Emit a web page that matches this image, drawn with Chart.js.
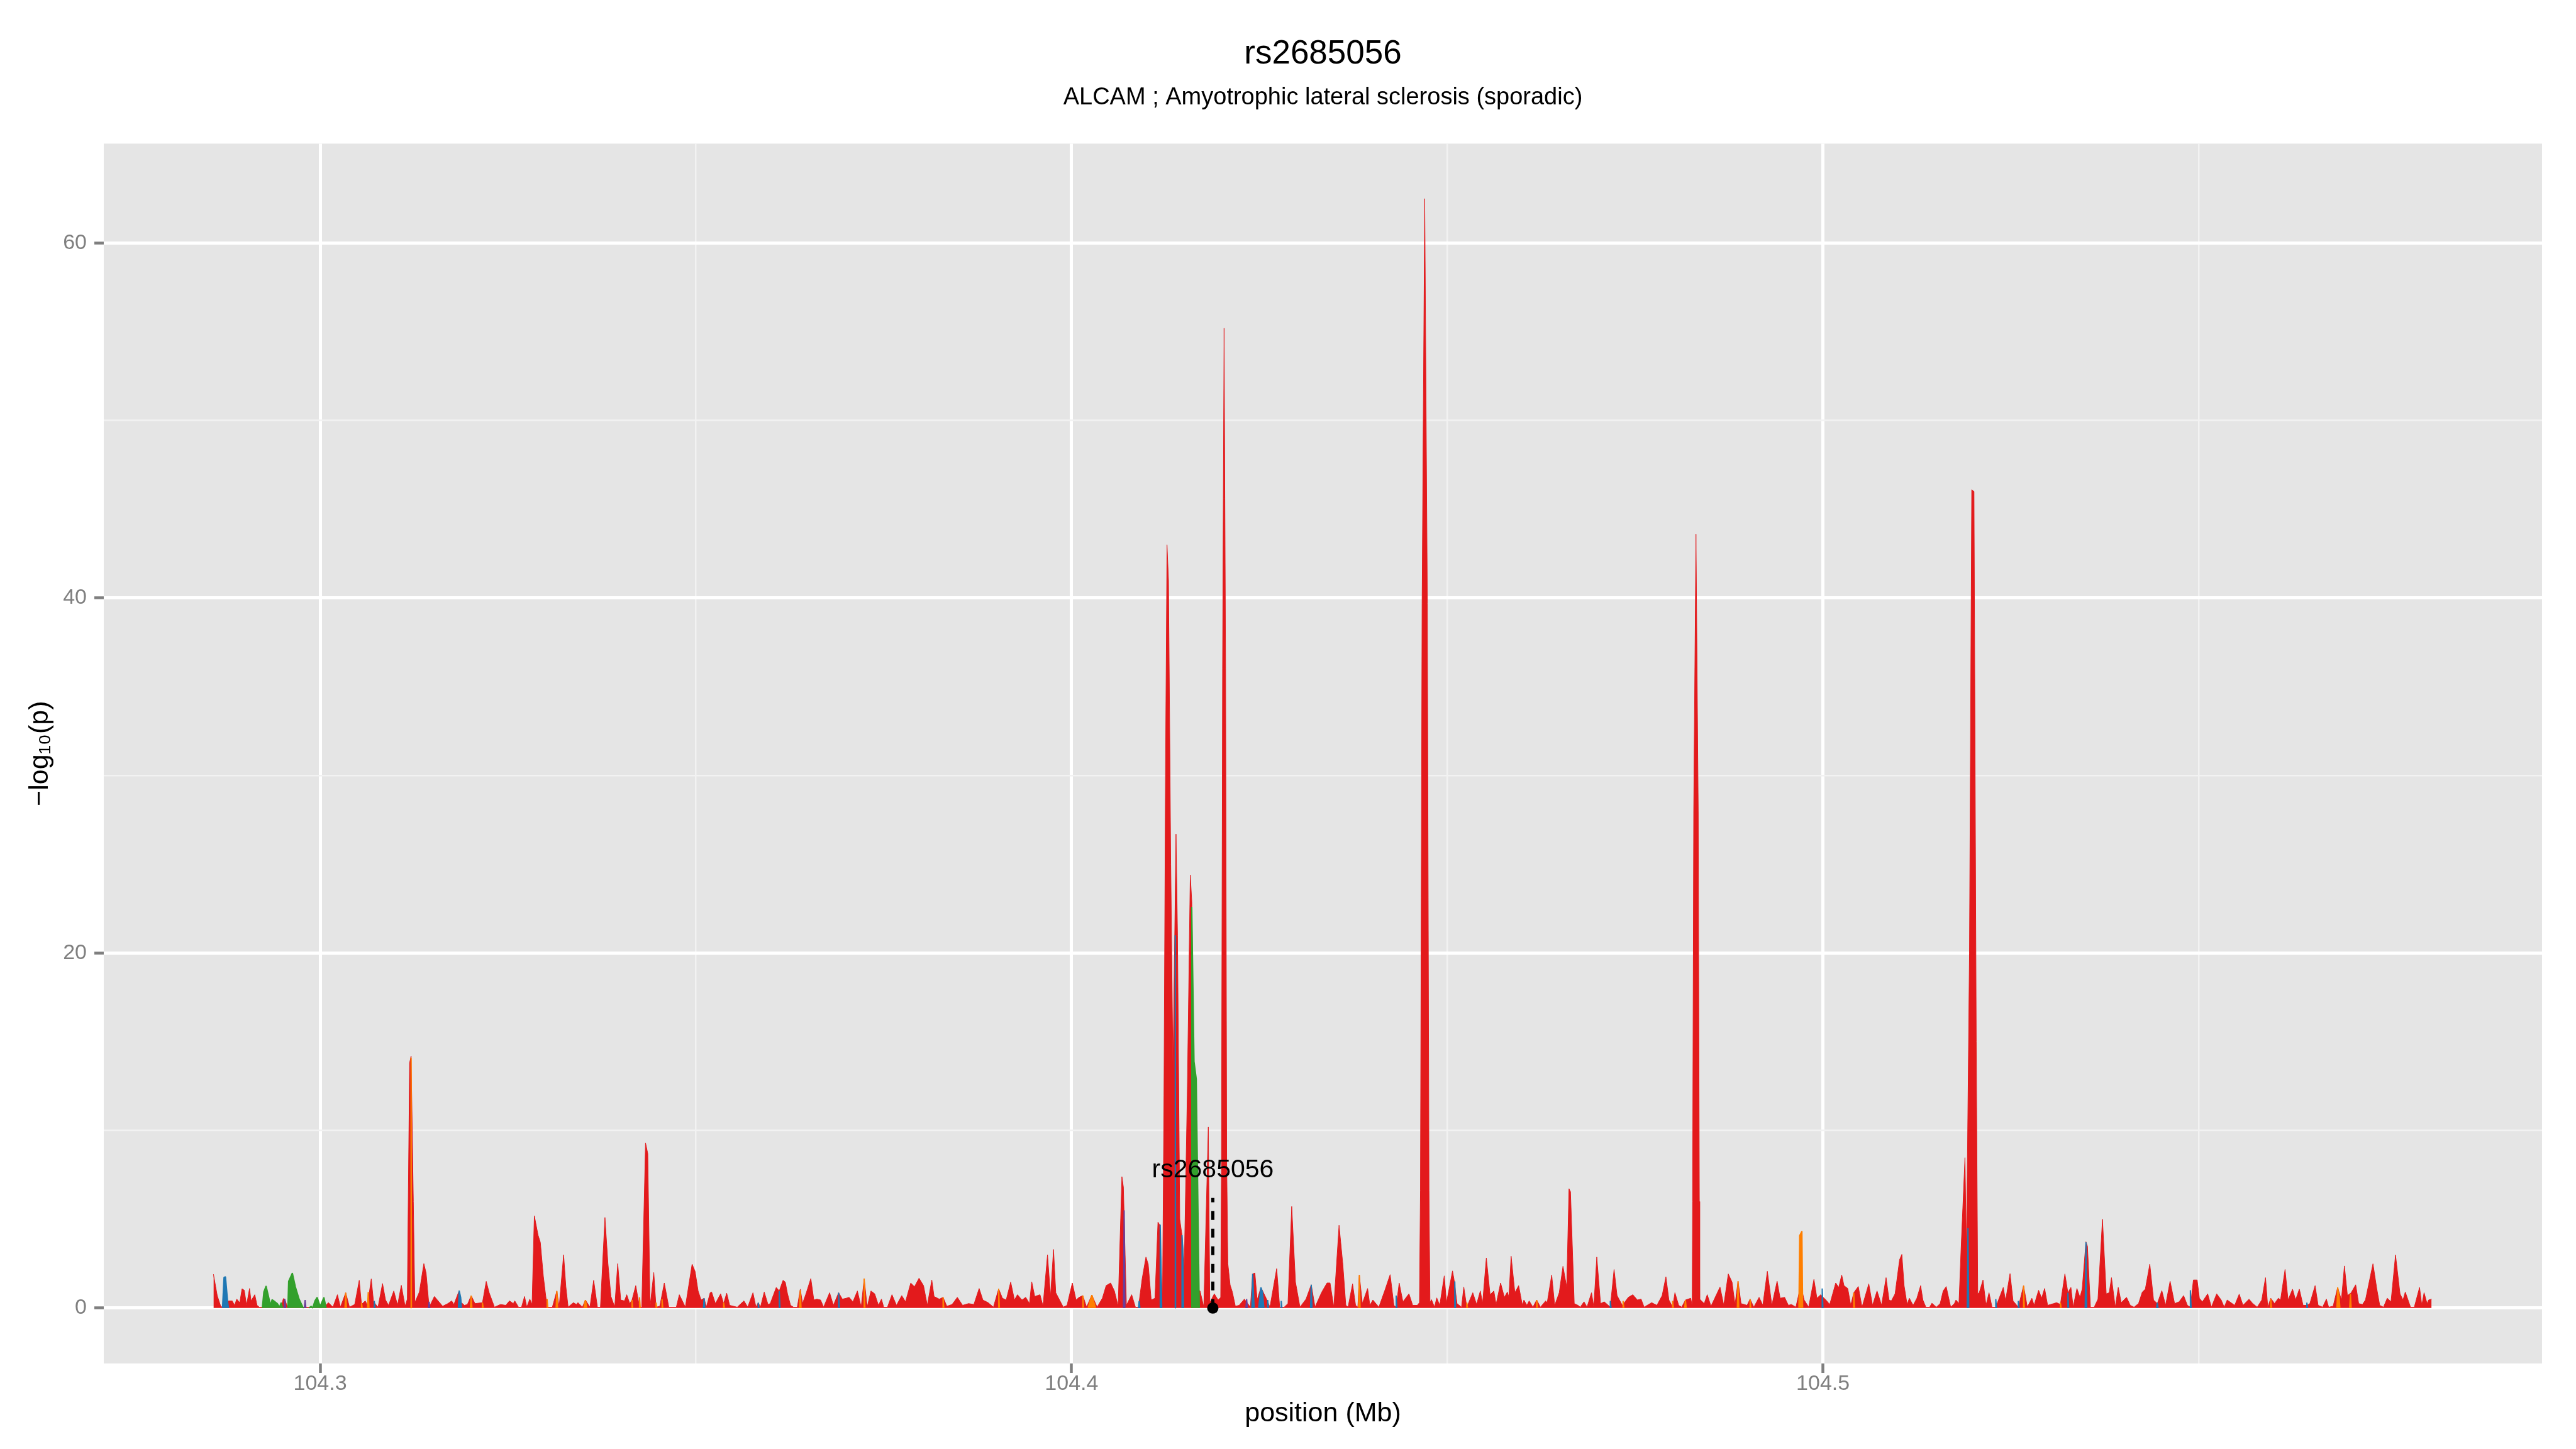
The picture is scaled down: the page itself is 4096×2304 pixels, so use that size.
<!DOCTYPE html>
<html lang="en">
<head>
<meta charset="UTF-8">
<title>rs2685056</title>
<style>
  html, body { margin: 0; padding: 0; background: #fff; overflow: hidden; }
  canvas { display: block; }
</style>
</head>
<body>
<canvas id="chart" width="4096" height="2304"></canvas>
<script src="https://cdn.jsdelivr.net/npm/chart.js"></script>
<script>
// text
const chartTitle = 'rs2685056';
const chartSubtitle = 'ALCAM ; Amyotrophic lateral sclerosis (sporadic)';
const xLabel = 'position (Mb)';
const yLabel = '−log₁₀(p)';

// axes
const xRange = [104.2712, 104.5957];
const yRange = [-3.125, 65.6];
const xTickLabels = [104.3, 104.4, 104.5];
const yTickLabels = [0, 20, 40, 60];

// index SNP
const leadSnp = { name: 'rs2685056', pos: 104.4188, lineTop: 6.2, labelY: 7.75 };

// [position (Mb), -log10(p)]
const redSnps = [
  [104.2858,1.9],[104.2863,0.7],[104.2868,0.05],[104.2874,0.2],[104.2878,0.4],[104.2883,0.4],[104.2886,0.15],
  [104.2889,0.5],[104.2893,0.3],[104.2896,1.08],[104.2899,1.0],[104.2902,0.15],[104.2906,1.1],[104.2908,0.4],
  [104.2913,0.75],[104.2916,0.15],[104.2919,0.05],[104.2925,0.05],[104.2948,0.05],[104.2951,0.53],[104.2953,0.5],
  [104.2956,0.1],[104.2962,0.05],[104.3005,0.05],[104.3011,0.3],[104.3017,0.05],[104.3023,0.75],[104.3027,0.05],
  [104.3034,0.86],[104.3039,0.05],[104.3046,0.2],[104.3052,1.56],[104.3055,0.2],[104.3060,0.4],[104.3063,0.15],
  [104.3068,1.64],[104.3071,0.35],[104.3077,0.05],[104.3083,1.38],[104.3087,0.45],[104.3091,0.15],[104.3098,0.96],
  [104.3103,0.15],[104.3108,1.28],[104.3113,0.1],[104.3116,0.5],[104.3119,13.8],[104.3121,14.2],[104.3124,6],
  [104.3126,0.3],[104.3132,0.9],[104.3138,2.5],[104.3141,1.97],[104.3145,0.05],[104.3148,0.3],[104.3152,0.65],
  [104.3158,0.35],[104.3163,0.1],[104.3170,0.25],[104.3175,0.4],[104.3178,0.2],[104.3185,0.98],[104.3188,0.3],
  [104.3192,0.15],[104.3196,0.2],[104.3201,0.7],[104.3206,0.25],[104.3216,0.3],[104.3221,1.5],[104.3225,0.85],
  [104.3232,0.05],[104.3240,0.2],[104.3247,0.15],[104.3252,0.4],[104.3257,0.25],[104.3259,0.4],[104.3264,0.05],
  [104.3268,0.05],[104.3272,0.65],[104.3275,0.05],[104.3279,0.5],[104.3282,0.2],[104.3285,5.2],[104.3290,4.1],
  [104.3293,3.7],[104.3297,1.8],[104.3302,0.05],[104.3309,0.05],[104.3315,0.96],[104.3318,0.05],[104.3324,3.0],
  [104.3327,1.2],[104.3330,0.05],[104.3337,0.3],[104.3341,0.2],[104.3343,0.3],[104.3349,0.05],[104.3353,0.45],
  [104.3359,0.05],[104.3364,1.56],[104.3369,0.05],[104.3373,0.05],[104.3379,5.1],[104.3383,2.5],[104.3387,0.65],
  [104.3392,0.05],[104.3396,2.5],[104.3400,0.45],[104.3405,0.4],[104.3408,0.75],[104.3412,0.25],[104.3415,0.45],
  [104.3420,1.26],[104.3425,0.05],[104.3428,0.05],[104.3433,9.3],[104.3436,8.7],[104.3439,0.05],[104.3444,2.0],
  [104.3447,0.05],[104.3452,0.1],[104.3458,1.41],[104.3464,0.05],[104.3474,0.05],[104.3478,0.75],[104.3486,0.05],
  [104.3495,2.47],[104.3499,2.06],[104.3503,0.96],[104.3507,0.45],[104.3511,0.55],[104.3514,0.05],[104.3519,0.86],
  [104.3521,0.9],[104.3526,0.25],[104.3533,0.8],[104.3537,0.25],[104.3541,0.84],[104.3545,0.15],[104.3555,0.05],
  [104.3564,0.4],[104.3569,0.05],[104.3576,0.86],[104.3580,0.05],[104.3583,0.3],[104.3586,0.05],[104.3591,0.9],
  [104.3596,0.2],[104.3599,0.25],[104.3607,1.16],[104.3611,0.96],[104.3616,1.56],[104.3619,1.46],[104.3622,0.8],
  [104.3626,0.15],[104.3630,0.05],[104.3635,0.05],[104.3639,1.06],[104.3642,0.25],[104.3647,0.86],[104.3653,1.66],
  [104.3657,0.45],[104.3661,0.5],[104.3666,0.45],[104.3670,0.05],[104.3678,0.86],[104.3683,0.15],[104.3690,0.86],
  [104.3695,0.5],[104.3700,0.55],[104.3704,0.6],[104.3709,0.35],[104.3715,0.96],[104.3720,0.05],[104.3724,1.66],
  [104.3728,0.05],[104.3733,0.96],[104.3738,0.8],[104.3743,0.15],[104.3747,0.5],[104.3750,0.05],[104.3755,0.05],
  [104.3761,0.75],[104.3767,0.15],[104.3774,0.7],[104.3779,0.35],[104.3786,1.41],[104.3791,1.2],[104.3797,1.68],
  [104.3803,1.26],[104.3808,0.15],[104.3814,1.58],[104.3817,0.65],[104.3824,0.5],[104.3829,0.6],[104.3834,0.1],
  [104.3841,0.2],[104.3848,0.6],[104.3855,0.15],[104.3863,0.25],[104.3870,0.2],[104.3877,1.1],[104.3882,0.45],
  [104.3889,0.3],[104.3896,0.05],[104.3903,1.08],[104.3908,0.55],[104.3913,0.45],[104.3919,1.46],[104.3924,0.45],
  [104.3928,0.75],[104.3934,0.45],[104.3939,0.6],[104.3944,0.25],[104.3947,1.48],[104.3951,0.65],[104.3958,0.75],
  [104.3962,0.1],[104.3968,3.0],[104.3972,0.65],[104.3976,3.3],[104.3979,0.86],[104.3984,0.45],[104.3989,0.05],
  [104.3994,0.15],[104.4001,1.41],[104.4006,0.45],[104.4010,0.6],[104.4015,0.7],[104.4020,0.05],[104.4027,0.73],
  [104.4034,0.05],[104.4041,0.55],[104.4046,1.26],[104.4052,1.41],[104.4057,0.96],[104.4062,0.1],[104.4067,7.4],
  [104.4069,6.8],[104.4073,0.15],[104.4080,0.75],[104.4085,0.05],[104.4089,0.05],[104.4094,1.66],[104.4099,2.87],
  [104.4102,2.47],[104.4106,0.45],[104.4111,0.55],[104.4115,4.84],[104.4117,4.7],[104.4121,0.2],[104.4123,12],
  [104.4125,30],[104.4127,43.0],[104.4129,41.0],[104.4132,25],[104.4135,13.4],[104.4137,20],[104.4139,26.7],
  [104.4141,21],[104.4144,5.0],[104.4147,4.1],[104.4150,2.4],[104.4154,12],[104.4158,24.4],[104.4160,22.9],
  [104.4166,1.0],[104.4171,0.96],[104.4176,0.05],[104.4182,10.2],[104.4184,0.3],[104.4190,0.8],[104.4195,0.45],
  [104.41985,0.6],[104.41995,8],[104.4201,36],[104.4203,55.2],[104.4205,36],[104.42065,8],[104.4208,2.5],
  [104.4211,1.3],[104.4214,0.9],[104.4218,0.1],[104.4223,0.15],[104.4230,0.5],[104.4238,0.05],[104.4241,1.92],
  [104.4244,1.97],[104.4247,0.45],[104.4252,1.16],[104.4259,0.55],[104.4264,0.05],[104.4273,2.22],[104.4277,0.05],
  [104.4283,0.05],[104.4288,0.25],[104.4293,5.72],[104.4298,1.46],[104.4304,0.05],[104.4312,0.5],[104.4319,1.31],
  [104.4324,0.05],[104.4333,0.9],[104.4340,1.41],[104.4344,1.41],[104.4349,0.05],[104.4356,4.66],[104.4361,2.47],
  [104.4365,0.15],[104.4368,0.05],[104.4374,1.36],[104.4378,0.15],[104.4381,0.05],[104.4383,1.86],[104.4387,0.25],
  [104.4394,1.1],[104.4397,0.15],[104.4401,0.45],[104.4409,0.05],[104.4417,1.0],[104.4424,1.88],[104.4429,0.15],
  [104.4432,0.05],[104.4436,1.41],[104.4441,0.35],[104.4449,0.8],[104.4454,0.15],[104.4460,0.15],[104.4463,0.3],
  [104.44643,6.6],[104.44665,39.7],[104.4470,62.5],[104.44735,39.7],[104.44757,6.6],[104.4477,0.3],
  [104.4479,0.47],[104.4483,0.05],[104.4486,0.57],[104.4490,0.15],[104.4496,1.81],
  [104.4499,0.3],[104.4507,2.09],[104.4509,1.61],[104.4513,0.25],[104.4519,0.05],[104.4522,1.18],[104.4526,0.05],
  [104.4534,0.86],[104.4539,0.2],[104.4544,0.96],[104.4547,0.25],[104.4552,2.82],[104.4557,0.75],[104.4562,0.96],
  [104.4565,0.2],[104.4571,1.41],[104.4576,0.6],[104.4580,0.9],[104.4582,0.6],[104.4585,2.92],[104.4590,0.86],
  [104.4595,1.26],[104.4600,0.15],[104.4602,0.45],[104.4606,0.15],[104.4609,0.4],[104.4614,0.05],[104.4619,0.45],
  [104.4624,0.05],[104.4631,0.4],[104.4633,0.3],[104.4639,1.86],[104.4643,0.15],[104.4649,0.86],[104.4654,2.35],
  [104.4659,1.16],[104.4662,6.72],[104.4664,6.55],[104.4669,0.25],[104.4674,0.15],[104.4677,0.05],[104.4682,0.35],
  [104.4686,0.05],[104.4692,0.86],[104.4695,0.05],[104.4699,2.87],[104.4704,0.25],[104.4709,0.35],[104.4717,0.05],
  [104.4722,2.17],[104.4726,0.7],[104.4733,0.15],[104.4741,0.6],[104.4747,0.75],[104.4753,0.45],[104.4758,0.5],
  [104.4762,0.05],[104.4772,0.3],[104.4779,0.15],[104.4786,0.7],[104.4791,1.76],[104.4795,0.45],[104.4800,0.05],
  [104.4803,0.86],[104.4808,0.15],[104.4812,0.05],[104.4817,0.45],[104.4824,0.55],[104.4826,0.1],[104.48265,6],
  [104.4828,28],[104.4831,43.6],[104.4834,28],[104.48355,6],[104.4836,0.5],[104.4842,0.25],[104.4846,0.75],
  [104.4851,0.1],[104.4856,0.55],
  [104.4863,1.18],[104.4868,0.15],[104.4874,1.92],[104.4879,1.46],[104.4883,0.2],[104.4887,1.51],[104.4891,0.25],
  [104.4899,0.15],[104.4903,0.5],[104.4908,0.05],[104.4915,0.6],[104.4920,0.15],[104.4926,2.07],[104.4932,0.15],
  [104.4939,1.51],[104.4943,0.55],[104.4949,0.6],[104.4954,0.15],[104.4958,0.2],[104.4964,0.05],[104.4969,1.0],
  [104.4972,1.0],[104.4975,0.45],[104.4981,0.05],[104.4988,1.61],[104.4992,0.55],[104.4997,0.75],[104.5004,0.45],
  [104.5009,0.2],[104.5017,1.41],[104.5021,1.16],[104.5025,1.86],[104.5028,1.26],[104.5033,1.1],[104.5037,0.15],
  [104.5041,0.86],[104.5047,1.21],[104.5052,0.05],[104.5061,1.36],[104.5066,0.15],[104.5072,0.96],[104.5078,0.15],
  [104.5084,1.71],[104.5088,0.45],[104.5091,0.4],[104.5096,0.8],[104.5102,2.72],[104.5105,3.02],[104.5108,1.26],
  [104.5112,0.2],[104.5115,0.55],[104.5120,0.15],[104.5125,0.55],[104.5130,1.26],[104.5133,0.45],[104.5137,0.05],
  [104.5142,0.05],[104.5145,0.27],[104.5151,0.05],[104.5156,0.25],[104.5160,0.96],[104.5164,1.21],[104.5170,0.05],
  [104.5175,0.25],[104.5177,0.45],[104.5181,0.25],[104.5184,3.5],[104.5189,8.47],[104.5191,3.0],[104.5195,20],
  [104.5198,46.1],[104.5201,46.0],[104.5204,15],[104.5206,0.8],[104.5208,0.86],[104.5213,1.58],[104.5217,0.15],
  [104.5221,0.86],[104.5225,0.05],[104.5230,0.05],[104.5235,0.6],[104.5240,1.16],[104.5243,0.4],[104.5249,1.94],
  [104.5253,0.4],[104.5260,0.05],[104.5267,1.26],[104.5272,0.05],[104.5278,0.55],[104.5281,0.15],[104.5287,1.0],
  [104.5291,0.55],[104.5295,1.1],[104.5299,0.15],[104.5307,0.25],[104.5311,0.3],[104.5316,0.2],[104.5322,1.92],
  [104.5326,0.86],[104.5330,1.16],[104.5333,0.05],[104.5338,1.1],[104.5342,0.6],[104.5345,1.06],[104.5350,3.73],
  [104.5352,3.48],[104.5356,0.05],[104.5361,0.05],[104.5366,0.5],[104.5372,5.0],[104.5377,0.8],[104.5381,0.86],
  [104.5384,1.71],[104.5389,0.05],[104.5393,1.16],[104.5397,0.3],[104.5404,0.6],[104.5409,0.15],[104.5414,0.05],
  [104.5420,0.25],[104.5425,0.9],[104.5429,1.06],[104.5435,2.47],[104.5440,0.45],[104.5445,0.25],[104.5451,0.98],
  [104.5456,0.15],[104.5462,1.51],[104.5468,0.25],[104.5474,0.35],[104.5480,0.7],[104.5485,0.15],[104.5489,0.05],
  [104.5493,1.58],[104.5498,1.58],[104.5501,0.55],[104.5505,0.35],[104.5512,0.8],[104.5517,0.05],[104.5524,0.8],
  [104.5530,0.45],[104.5534,0.05],[104.5538,0.45],[104.5543,0.3],[104.5548,0.15],[104.5554,0.78],[104.5559,0.15],
  [104.5567,0.5],[104.5572,0.25],[104.5578,0.05],[104.5584,0.45],[104.5589,1.71],[104.5592,0.05],[104.5596,0.55],
  [104.5601,0.25],[104.5606,0.55],[104.5609,0.45],[104.5615,2.17],[104.5619,0.45],[104.5625,1.06],[104.5629,0.45],
  [104.5634,1.06],[104.5639,0.15],[104.5644,0.15],[104.5648,0.25],[104.5655,1.26],[104.5659,0.15],[104.5665,0.05],
  [104.5670,0.5],[104.5673,0.05],[104.5679,0.1],[104.5685,1.16],[104.5690,0.45],[104.5694,2.37],[104.5698,0.7],
  [104.5703,0.86],[104.5709,1.31],[104.5713,0.25],[104.5718,0.2],[104.5722,0.45],[104.5732,2.49],[104.5737,1.1],
  [104.5741,0.15],[104.5746,0.05],[104.5751,0.55],[104.5756,0.35],[104.5762,2.99],[104.5768,0.8],[104.5772,0.45],
  [104.5775,0.9],[104.5782,0.05],[104.5787,0.05],[104.5794,1.16],[104.5797,0.15],[104.5800,0.86],[104.5804,0.25],
  [104.5806,0.45],[104.5810,0.5]
];

// SNPs in other LD bins, each run of neighbouring SNPs as one group
const blueRuns = [
  [[104.2870,0],[104.2872,1.72],[104.2874,1.76],[104.2877,0.3],[104.2878,0]],
  [[104.3072,0],[104.3072,0.4],[104.3073,0]],
  [[104.3184,0],[104.3185,0.98],[104.3187,0.6],[104.3188,0]],
  [[104.3510,0],[104.3511,0.55],[104.3512,0]],
  [[104.3583,0],[104.3583,0.3],[104.3584,0]],
  [[104.3611,0],[104.3611,0.96],[104.3612,0]],
  [[104.3690,0],[104.3690,0.86],[104.3691,0]],
  [[104.4089,0],[104.4090,0.4],[104.4091,0]],
  [[104.4118,0],[104.4118,4.7],[104.4119,2.5],[104.4120,0]],
  [[104.41375,0],[104.4138,21],[104.41385,0]],
  [[104.4147,0],[104.4147,4.1],[104.4148,3.3],[104.4149,0]],
  [[104.4240,0],[104.4241,1.92],[104.4242,1.0],[104.4243,0]],
  [[104.4249,0],[104.4252,1.16],[104.4254,0.9],[104.4256,0]],
  [[104.4261,0],[104.4261,0.45],[104.4262,0]],
  [[104.4279,0],[104.4279,0.4],[104.4280,0]],
  [[104.4318,0],[104.4319,1.31],[104.4320,0]],
  [[104.4432,0],[104.4432,0.7],[104.4433,0]],
  [[104.4510,0],[104.4510,1.5],[104.4511,0]],
  [[104.4717,0],[104.4717,0.4],[104.4718,0]],
  [[104.4999,0],[104.4999,1.1],[104.5000,0]],
  [[104.5192,0],[104.5193,4.5],[104.5194,0]],
  [[104.5230,0],[104.5230,0.5],[104.5231,0]],
  [[104.5260,0],[104.5260,0.4],[104.5261,0]],
  [[104.5326,0],[104.5326,0.86],[104.5327,0]],
  [[104.5349,0],[104.5350,3.7],[104.5351,0]],
  [[104.5444,0],[104.5445,0.3],[104.5446,0]],
  [[104.5489,0],[104.5489,1.0],[104.5490,0]],
  [[104.5644,0],[104.5644,0.3],[104.5645,0]]
];

const orangeRuns = [
  [[104.3033,0],[104.3034,0.86],[104.3035,0]],
  [[104.3055,0],[104.3055,0.3],[104.3056,0]],
  [[104.3063,0],[104.3064,0.9],[104.3065,0]],
  [[104.31205,0],[104.3121,14.1],[104.31215,0]],
  [[104.3200,0],[104.3201,0.7],[104.3202,0]],
  [[104.3216,0],[104.3216,0.3],[104.3217,0]],
  [[104.3302,0],[104.3302,0.5],[104.3303,0]],
  [[104.3314,0],[104.3315,0.96],[104.3316,0]],
  [[104.3351,0],[104.3353,0.45],[104.3355,0]],
  [[104.3415,0],[104.3415,0.45],[104.3416,0]],
  [[104.3425,0],[104.3425,0.6],[104.3426,0]],
  [[104.3447,0],[104.3447,0.3],[104.3448,0]],
  [[104.3455,0],[104.3455,0.5],[104.3456,0]],
  [[104.3537,0],[104.3537,0.3],[104.3538,0]],
  [[104.3638,0],[104.3639,1.0],[104.3640,0]],
  [[104.3724,0],[104.3724,1.66],[104.3725,0]],
  [[104.3829,0],[104.3829,0.6],[104.3830,0]],
  [[104.3903,0],[104.3903,1.08],[104.3904,0]],
  [[104.4015,0],[104.4015,0.7],[104.4016,0]],
  [[104.4022,0],[104.4027,0.73],[104.4032,0]],
  [[104.4382,0],[104.4383,1.86],[104.4384,0]],
  [[104.4526,0],[104.4526,0.3],[104.4527,0]],
  [[104.4619,0],[104.4619,0.45],[104.4620,0]],
  [[104.4734,0],[104.4734,0.4],[104.4735,0]],
  [[104.4800,0],[104.4800,0.4],[104.4801,0]],
  [[104.4816,0],[104.4817,0.45],[104.4818,0]],
  [[104.4886,0],[104.4887,1.51],[104.4888,0]],
  [[104.4903,0],[104.4903,0.5],[104.4904,0]],
  [[104.4968,0],[104.4969,4.08],[104.4972,4.33],[104.4973,0]],
  [[104.5041,0],[104.5041,0.86],[104.5042,0]],
  [[104.5267,0],[104.5267,1.26],[104.5268,0]],
  [[104.5316,0],[104.5316,0.3],[104.5317,0]],
  [[104.5596,0],[104.5596,0.5],[104.5597,0]],
  [[104.5684,0],[104.5685,1.16],[104.5687,0.6],[104.5688,0]],
  [[104.5701,0],[104.5702,0.8],[104.5703,0]]
];

const greenRuns = [
  [[104.2923,0],[104.2925,0.9],[104.2928,1.24],[104.2931,0.7],[104.2934,0.15],[104.2936,0.47],[104.2940,0.35],
   [104.2943,0.25],[104.2946,0.05],[104.2948,0.3],[104.2950,0]],
  [[104.2957,0],[104.2958,1.5],[104.2963,1.97],[104.2967,1.2],[104.2972,0.5],[104.2977,0.05],[104.2978,0]],
  [[104.2985,0],[104.2988,0.1],[104.2990,0],[104.2993,0.4],[104.2996,0.6],[104.3000,0.1],[104.3005,0.6],[104.3008,0]],
  [[104.4160,0],[104.4160,22.6],[104.4163,13.9],[104.4166,12.9],[104.4170,0]]
];

const purpleRuns = [
  [[104.2952,0],[104.2953,0.5],[104.2954,0]],
  [[104.2979,0],[104.2980,0.45],[104.2981,0]],
  [[104.3144,0],[104.3145,0.35],[104.3146,0]],
  [[104.4069,0],[104.4070,5.5],[104.4071,0]],
  [[104.4232,0],[104.4233,0.5],[104.4234,0]]
];

const FONT = "'Liberation Sans', Arial, Helvetica, sans-serif";
const GREY = '#7F7F7F';

function toXY(pairs) {
  return pairs.map(p => ({ x: p[0], y: p[1] }));
}
// runs joined with gaps so each one is filled on its own
function runsToXY(runs) {
  const out = [];
  runs.forEach((run, i) => {
    if (i > 0) out.push({ x: run[0][0], y: null });
    run.forEach(p => out.push({ x: p[0], y: p[1] }));
  });
  return out;
}
function areaSet(data, color, order, border) {
  return {
    data: data,
    backgroundColor: color,
    borderColor: color,
    borderWidth: border,
    borderJoinStyle: 'bevel',
    fill: 'origin',
    pointRadius: 0,
    tension: 0,
    spanGaps: false,
    order: order
  };
}

const near = (a, b) => Math.abs(a - b) < 1e-6;
const isMajorX = v => xTickLabels.some(t => near(t, v));
const isMajorY = v => yTickLabels.some(t => near(t, v));

const panelBg = {
  id: 'panelBg',
  beforeDraw(chart) {
    const { ctx, chartArea: a } = chart;
    ctx.save();
    ctx.fillStyle = '#E5E5E5';
    ctx.fillRect(a.left, a.top, a.right - a.left, a.bottom - a.top);
    ctx.restore();
  }
};

const leadLabel = {
  id: 'leadLabel',
  afterDatasetsDraw(chart) {
    const { ctx, scales } = chart;
    ctx.save();
    ctx.fillStyle = '#000';
    ctx.font = '41px ' + FONT;
    ctx.textAlign = 'center';
    ctx.textBaseline = 'middle';
    ctx.fillText(leadSnp.name, scales.x.getPixelForValue(leadSnp.pos), scales.y.getPixelForValue(leadSnp.labelY));
    ctx.restore();
  }
};

Chart.defaults.font.family = FONT;

new Chart(document.getElementById('chart'), {
  type: 'line',
  data: {
    datasets: [
      areaSet(toXY(redSnps), '#E31A1C', 5, 1),
      areaSet(runsToXY(blueRuns), '#1F78B4', 2, 2),
      areaSet(runsToXY(orangeRuns), '#FF7F00', 2, 2),
      areaSet(runsToXY(greenRuns), '#33A02C', 2, 2),
      areaSet(runsToXY(purpleRuns), '#6A3D9A', 2, 2),
      {
        data: [{ x: leadSnp.pos, y: 0 }, { x: leadSnp.pos, y: leadSnp.lineTop }],
        borderColor: '#000',
        borderWidth: 5,
        borderDash: [14, 14],
        pointRadius: 0,
        fill: false,
        order: 1
      },
      {
        data: [{ x: leadSnp.pos, y: 0 }],
        showLine: false,
        pointRadius: 9,
        pointBackgroundColor: '#000',
        pointBorderWidth: 0,
        fill: false,
        order: 0
      }
    ]
  },
  options: {
    responsive: false,
    devicePixelRatio: 1,
    animation: false,
    events: [],
    layout: { padding: { left: 0, right: 54, top: 0, bottom: 0 } },
    plugins: {
      legend: { display: false },
      tooltip: { enabled: false },
      title: {
        display: true,
        fullSize: false,
        text: chartTitle,
        color: '#000',
        font: { size: 53, weight: 'normal', lineHeight: 1.2 },
        padding: { top: 54.2, bottom: 0 }
      },
      subtitle: {
        display: true,
        fullSize: false,
        text: chartSubtitle,
        color: '#000',
        font: { size: 38, weight: 'normal', lineHeight: 1.2 },
        padding: { top: 14.6, bottom: 50.4 }
      }
    },
    scales: {
      x: {
        type: 'linear',
        min: xRange[0],
        max: xRange[1],
        afterFit: s => { s.height = 136; },
        border: { display: false },
        grid: {
          color: c => (c.tick && isMajorX(c.tick.value)) ? '#FFFFFF' : '#F2F2F2',
          lineWidth: c => (c.tick && isMajorX(c.tick.value)) ? 5 : 2.5,
          tickColor: c => (c.tick && isMajorX(c.tick.value)) ? GREY : 'rgba(0,0,0,0)',
          tickLength: 15,
          tickWidth: 4.5
        },
        ticks: {
          stepSize: 0.05,
          includeBounds: false,
          autoSkip: false,
          maxRotation: 0,
          padding: 1,
          color: GREY,
          font: { size: 34, lineHeight: 1 },
          callback: v => isMajorX(v) ? v.toFixed(1) : ''
        },
        title: {
          display: true,
          text: xLabel,
          color: '#000',
          font: { size: 43, lineHeight: 1.2 },
          padding: { top: 0, bottom: 30.2 }
        }
      },
      y: {
        type: 'linear',
        min: yRange[0],
        max: yRange[1],
        afterFit: s => { s.width = 165; },
        border: { display: false },
        grid: {
          color: c => (c.tick && isMajorY(c.tick.value)) ? '#FFFFFF' : '#F2F2F2',
          lineWidth: c => (c.tick && isMajorY(c.tick.value)) ? 5 : 2.5,
          tickColor: c => (c.tick && isMajorY(c.tick.value)) ? GREY : 'rgba(0,0,0,0)',
          tickLength: 15,
          tickWidth: 4.5
        },
        ticks: {
          stepSize: 10,
          includeBounds: false,
          autoSkip: false,
          padding: 12,
          color: GREY,
          font: { size: 34, lineHeight: 1 },
          callback: v => isMajorY(v) ? String(v) : ''
        },
        title: {
          display: true,
          text: yLabel,
          color: '#000',
          font: { size: 43, lineHeight: 1.2 },
          padding: { top: 38.2, bottom: 0 }
        }
      }
    }
  },
  plugins: [panelBg, leadLabel]
});
</script>
</body>
</html>
